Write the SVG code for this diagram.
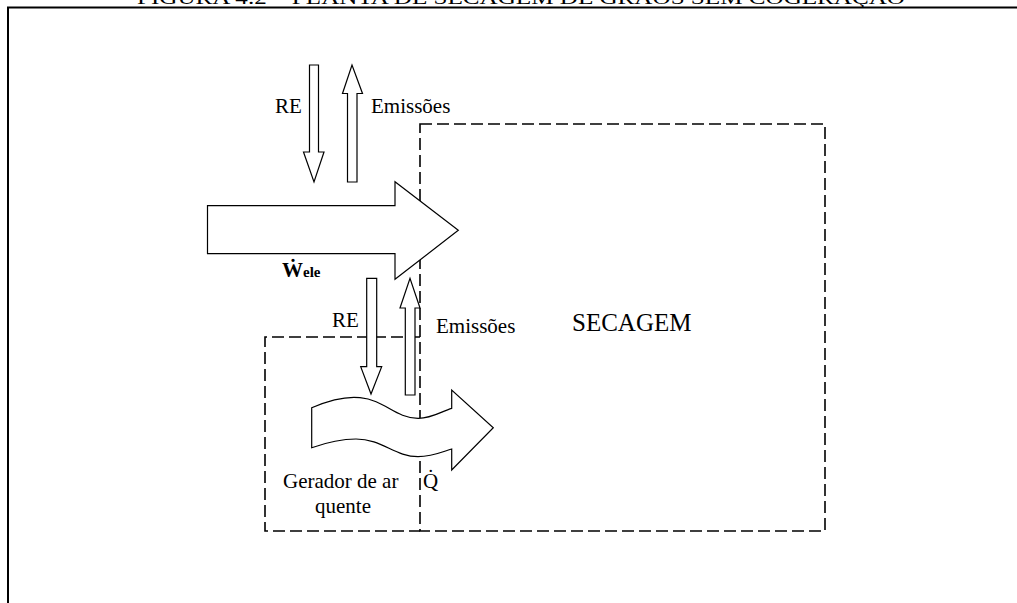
<svg xmlns="http://www.w3.org/2000/svg" width="1017" height="603" viewBox="0 0 1017 603">
<style>
text{font-family:"Liberation Serif","Times New Roman",Times,serif;fill:#000}
.lbl{font-size:21px}
.big{font-size:25px}
.title{font-size:18px}
.box{fill:none;stroke:#000;stroke-width:1.6;stroke-dasharray:12 5}
.arr{fill:#fff;stroke:#000;stroke-width:1.2;stroke-linejoin:miter}
.frame{fill:none;stroke:#000;stroke-width:2}
</style>
<rect width="1017" height="603" fill="#fff"/>
<text class="title" x="137" y="4" textLength="768" lengthAdjust="spacingAndGlyphs">FIGURA 4.2 – PLANTA DE SECAGEM DE GRÃOS SEM COGERAÇÃO</text>
<path class="frame" d="M8,603 L8,7.5 L1017,7.5"/>
<g id="secagem">
<path class="box" d="M420,124 L825,124 L825,531 L420,531 Z"/>
<text class="big" x="572" y="331" font-family="Liberation Serif, serif">SECAGEM</text>
</g>
<g id="gerador">
<path class="box" d="M420,337 L265,337 L265,531 L420,531"/>
<text class="lbl" x="283" y="488" font-family="Liberation Serif, serif">Gerador de ar</text>
<text class="lbl" x="315" y="513" font-family="Liberation Serif, serif">quente</text>
</g>
<g id="connectors">
<path class="arr" d="M309.5,65 L318.5,65 L318.5,152 L324,152 L314,182 L303.5,152 L309.5,152 Z"/>
<path class="arr" d="M347.5,182 L357,182 L357,93.5 L362.5,93.5 L352,65 L342.5,93.5 L347.5,93.5 Z"/>
<path class="arr" d="M207.5,205.7 L395,205.7 L395,181.7 L458.3,230.3 L395,279.3 L395,253.7 L207.5,253.7 Z"/>
<path class="arr" d="M366.7,278.3 L376.7,278.3 L376.7,366.7 L381.7,366.7 L371,394 L360.7,366.7 L366.7,366.7 Z"/>
<path class="arr" d="M405.3,395 L415,395 L415,308 L420,308 L410,278.3 L400,308 L405.3,308 Z"/>
<path class="arr" d="M311.7,407.7 C330,400 345,396 360,397.7 C385,400 395,418 418,418.3 C432,418.5 442,411 451.7,408.3 L451.7,390 L493.3,427.7 L451.7,470 L451.7,449 C442,452 432,456.7 418,456.7 C395,456.7 382,439 356,439 C340,439 325,443 311.7,447.7 Z"/>
</g>
<g id="labels" font-family="Liberation Serif, serif">
<text class="lbl" x="275" y="113" font-family="Liberation Serif, serif">RE</text>
<text class="lbl" x="371" y="113" font-family="Liberation Serif, serif">Emissões</text>
<text class="lbl" x="332" y="327" font-family="Liberation Serif, serif">RE</text>
<text class="lbl" x="436" y="333" font-family="Liberation Serif, serif">Emissões</text>
<text class="lbl" x="282" y="277" font-weight="bold" font-size="19" font-family="Liberation Serif, serif">Ẇ<tspan font-size="15">ele</tspan></text>
<text class="lbl" x="423" y="488" font-family="Liberation Serif, serif">Q̇</text>
</g>
</svg>
